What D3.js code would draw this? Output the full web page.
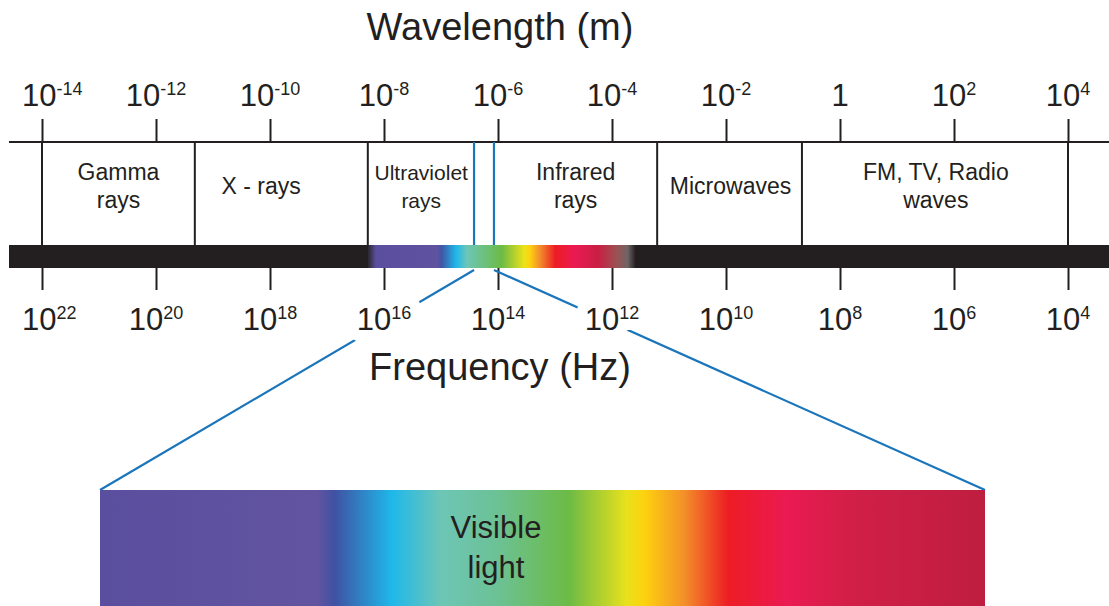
<!DOCTYPE html>
<html>
<head>
<meta charset="utf-8">
<script src="https://cdn.jsdelivr.net/npm/d3@7"></script>
<style>
  html, body { margin: 0; padding: 0; background: #fff; }
  svg { display: block; font-family: "Liberation Sans", Arial, Helvetica, sans-serif; }
  text { fill: #231f20; }
  text.halo { fill: #fff; stroke: #fff; stroke-width: 22px; stroke-linejoin: round; }
</style>
</head>
<body>
<div id="chart"></div>
<script>
// wavelength ticks (powers of ten, metres) and matching frequency ticks (Hz)
const waveExps = [-14, -12, -10, -8, -6, -4, -2, 0, 2, 4];
const freqExps = [22, 20, 18, 16, 14, 12, 10, 8, 6, 4];

// bands of the spectrum, in metres
const bandNames = [["Gamma", "rays"], ["X - rays"], ["Ultraviolet", "rays"], ["Infrared", "rays"], ["Microwaves"], ["FM, TV, Radio", "waves"]];
const bandStart = [1e-14, 4.8e-12, 5.2e-9, 8.5e-7, 6.2e-4, 0.215];
const bandEnd = [4.8e-12, 5.2e-9, 3.8e-7, 6.2e-4, 0.215, 1e4];
const bandLabelAt = [2.2e-13, 7e-11, 4.5e-8, 2.3e-5, 1.2e-2, 48];
const bandFont = [23, 23, 21, 23, 23, 23];

const visibleRange = [3.8e-7, 8.5e-7];
const rainbowRange = [5.2e-9, 2.6e-4];

// colour stops: small rainbow inside the bar, and the large visible light box
const barStops = [0, 0.03, 0.26, 0.275, 0.33, 0.37, 0.5, 0.585, 0.605, 0.64, 0.7, 0.77, 0.86, 0.93, 0.97, 1];
const barColors = ["#2a2628", "#5a4e9e", "#5f53a0", "#3f55a5", "#1fb8ea", "#6cc6b6", "#6cbb45", "#ede21a", "#fdd20f", "#f3922b", "#ed1c24", "#eb1a52", "#c91f44", "#9a5252", "#6e6466", "#231f20"];
const lightStops = [0, 0.245, 0.265, 0.33, 0.385, 0.45, 0.53, 0.595, 0.615, 0.66, 0.71, 0.775, 0.85, 1];
const lightColors = ["#5a4e9e", "#6254a0", "#3f52a3", "#1fb8ea", "#6dc6b6", "#6cc194", "#6cbb45", "#e8e11c", "#fdd20f", "#f39029", "#ed1c24", "#eb1a52", "#d11f47", "#be1e3f"];

const width = 1109, height = 606;
const ink = "#231f20", blue = "#1b75bb";
const lineY = 142, barTop = 245, barBot = 268;
const box = { x0: 100, x1: 985, y0: 490, y1: 606 };

const svg = d3.select("#chart").append("svg")
  .attr("width", width).attr("height", height);
const defs = svg.append("defs");

const x = d3.scaleLog().domain([1e-14, 1e4]).range([42, 1068]);
const xf = d3.scaleLog().domain([1e22, 1e4]).range([42, 1068]);

function addGradient(id, stops, colors) {
  const g = defs.append("linearGradient").attr("id", id)
    .attr("x1", "0%").attr("x2", "100%").attr("y1", "0%").attr("y2", "0%");
  g.selectAll("stop").data(stops).join("stop")
    .attr("offset", d => d)
    .attr("stop-color", (d, i) => colors[i]);
}
addGradient("barGrad", barStops, barColors);
addGradient("lightGrad", lightStops, lightColors);

// power-of-ten label with superscript
function powerLabel(sel, exp, big, small, rise) {
  if (exp === 0) {
    sel.append("tspan").attr("font-size", big).text("1");
    return;
  }
  sel.append("tspan").attr("font-size", big).text("10");
  sel.append("tspan").attr("font-size", small).attr("dy", -rise).text(exp);
}

function powerLabels(parent, exps, scale, y, cls) {
  const t = parent.append("g").selectAll("text").data(exps).join("text")
    .attr("class", cls).attr("y", y).attr("text-anchor", "middle")
    .each(function (e) { powerLabel(d3.select(this), e, 31, 18, 11); });
  // keep the first label clear of the left edge
  t.attr("x", function (e) {
    const w = this.getComputedTextLength();
    return Math.max(scale(Math.pow(10, e)), 22 + w / 2);
  });
  return t;
}

// titles
svg.append("text").attr("x", 500).attr("y", 40).attr("text-anchor", "middle")
  .attr("font-size", 38).text("Wavelength (m)");
svg.append("text").attr("x", 500).attr("y", 380).attr("text-anchor", "middle")
  .attr("font-size", 38).text("Frequency (Hz)");

// top axis
const topAxis = svg.append("g").attr("transform", `translate(0,${lineY})`)
  .call(d3.axisTop(x).tickValues(waveExps.map(e => Math.pow(10, e))).tickSize(23).tickFormat(""));
topAxis.select(".domain").remove();
topAxis.selectAll(".tick line").attr("stroke", ink).attr("stroke-width", 2);

svg.append("line").attr("x1", 9).attr("x2", width).attr("y1", lineY).attr("y2", lineY)
  .attr("stroke", ink).attr("stroke-width", 2);

powerLabels(svg, waveExps, x, 106, "lab");

// band dividers and labels
const edges = Array.from(new Set(bandStart.concat(bandEnd)))
  .filter(v => !visibleRange.includes(v));
svg.append("g").selectAll("line").data(edges).join("line")
  .attr("x1", d => x(d)).attr("x2", d => x(d))
  .attr("y1", lineY).attr("y2", barTop)
  .attr("stroke", ink).attr("stroke-width", 2);

const bandG = svg.append("g").selectAll("text").data(bandNames).join("text")
  .attr("text-anchor", "middle")
  .attr("font-size", (d, i) => bandFont[i])
  .attr("x", (d, i) => x(bandLabelAt[i]))
  .attr("y", d => d.length === 1 ? 194 : 180);
bandG.each(function (d, i) {
  const t = d3.select(this);
  d.forEach((line, j) => {
    t.append("tspan").attr("x", x(bandLabelAt[i])).attr("dy", j === 0 ? 0 : 28).text(line);
  });
});

// black bar with rainbow
svg.append("rect").attr("x", 9).attr("y", barTop).attr("width", width - 9).attr("height", barBot - barTop)
  .attr("fill", ink);
svg.append("rect").attr("x", x(rainbowRange[0])).attr("y", barTop)
  .attr("width", x(rainbowRange[1]) - x(rainbowRange[0])).attr("height", barBot - barTop)
  .attr("fill", "url(#barGrad)");

// bottom axis
const botAxis = svg.append("g").attr("transform", `translate(0,${barBot})`)
  .call(d3.axisBottom(xf).tickValues(freqExps.map(e => Math.pow(10, e))).tickSize(22).tickFormat(""));
botAxis.select(".domain").remove();
botAxis.selectAll(".tick line").attr("stroke", ink).attr("stroke-width", 2);

// visible light window lines
svg.append("g").selectAll("line").data(visibleRange).join("line")
  .attr("x1", d => x(d)).attr("x2", d => x(d))
  .attr("y1", lineY).attr("y2", barTop)
  .attr("stroke", blue).attr("stroke-width", 2.2);

const corners = [box.x0, box.x1];
svg.append("g").selectAll("line").data(visibleRange).join("line")
  .attr("x1", d => x(d)).attr("y1", barBot + 2)
  .attr("x2", (d, i) => corners[i]).attr("y2", box.y0)
  .attr("stroke", blue).attr("stroke-width", 2.2);

// frequency labels, a white halo copy first to knock out the blue lines
powerLabels(svg, freqExps, xf, 330, "halo");
powerLabels(svg, freqExps, xf, 330, "lab");

// visible light box
svg.append("rect").attr("x", box.x0).attr("y", box.y0)
  .attr("width", box.x1 - box.x0).attr("height", box.y1 - box.y0)
  .attr("fill", "url(#lightGrad)");
svg.append("text").attr("x", 496).attr("y", 538).attr("text-anchor", "middle")
  .attr("font-size", 31).text("Visible");
svg.append("text").attr("x", 496).attr("y", 578).attr("text-anchor", "middle")
  .attr("font-size", 31).text("light");
</script>
</body>
</html>
